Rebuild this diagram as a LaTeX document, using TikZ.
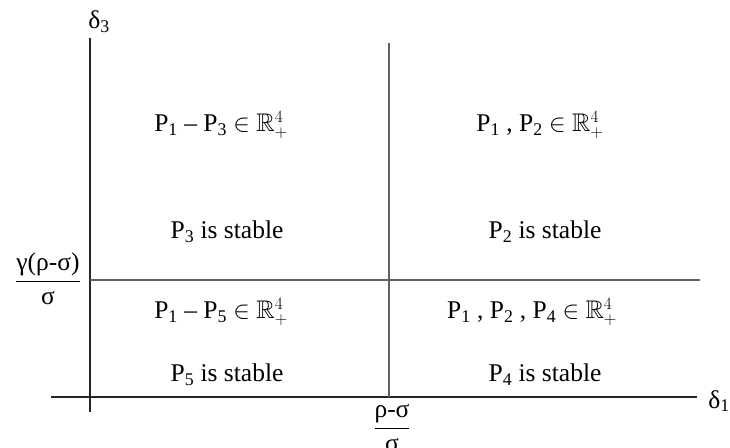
\documentclass[tikz,border=0pt]{standalone}
\usepackage{amsmath,amssymb}
\usepackage{fontspec}
\setmainfont{Liberation Serif}
\newcommand{\Ps}[1]{P\textsubscript{#1}}
\newcommand{\Rpos}{$\mathbb{R}^4_+$}
\tikzset{
	lab/.style={font=\fontsize{25.5}{30}\selectfont,inner sep=0pt},
	axis/.style={line width=1.3pt,black!85},
	split/.style={line width=2pt,black!62}
}
\begin{document}
\begin{tikzpicture}[x=1pt,y=-1pt,line cap=butt]
			\useasboundingbox (0,0) rectangle (730,447);
			% axes
			\draw[axis] (51,397)--(697,397);
			\draw[axis] (90,38)--(90,412);
			\node[lab] (d1) at (719,401) {δ\textsubscript{1}};
			\node[lab] (d3) at (99,22) {δ\textsubscript{3}};
			% thresholds
			\draw[split] (388.5,43)--(388.5,397);
			\draw[split] (90,280)--(700,280);
			\node[lab] (rs) at (392,428) {$\dfrac{\text{ρ-σ}}{\text{σ}}$};
			\node[lab] (grs) at (48,279) {$\dfrac{\text{γ(ρ-σ)}}{\text{σ}}$};
			% regions
			\node[lab] (q1) at (221,125) {\Ps{1} – \Ps{3} $\in$ \Rpos};
			\node[lab] (s1) at (227,232) {\Ps{3} is stable};
			\node[lab] (q2) at (540,125) {\Ps{1} , \Ps{2} $\in$ \Rpos};
			\node[lab] (s2) at (545,232) {\Ps{2} is stable};
			\node[lab] (q3) at (221,312) {\Ps{1} – \Ps{5} $\in$ \Rpos};
			\node[lab] (s3) at (227,375) {\Ps{5} is stable};
			\node[lab] (q4) at (532,312) {\Ps{1} , \Ps{2} , \Ps{4} $\in$ \Rpos};
			\node[lab] (s4) at (545,375) {\Ps{4} is stable};
		\end{tikzpicture}
\end{document}
